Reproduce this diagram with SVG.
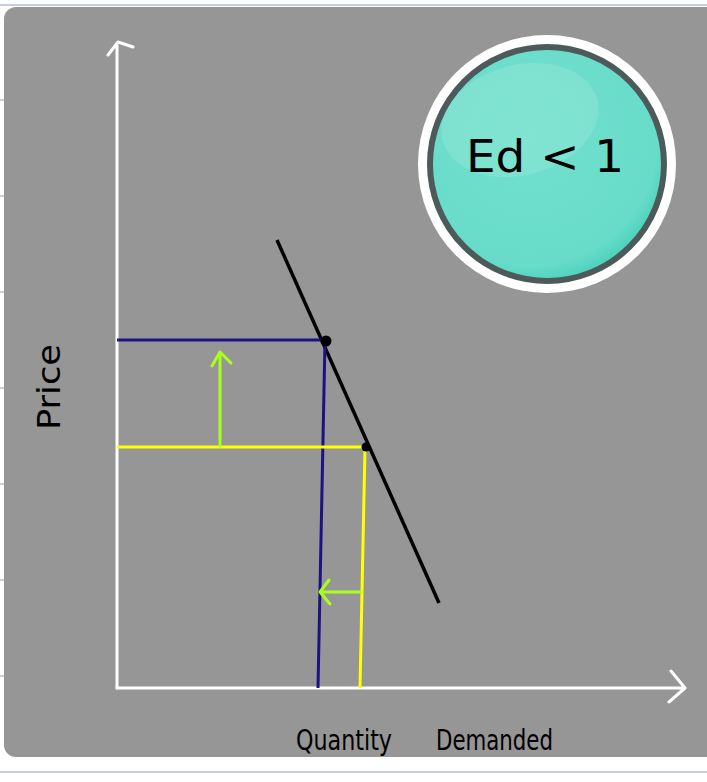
<svg xmlns="http://www.w3.org/2000/svg" width="707" height="782" viewBox="0 0 707 782">
<defs>
<style>
.guide{stroke:#c3cfdd;stroke-width:2}
.axis{stroke:#ffffff;stroke-width:3;fill:none;stroke-linecap:round;stroke-linejoin:round}
.navy{stroke:#1c1282;stroke-width:3;fill:none}
.yel{stroke:#ffff00;stroke-width:3;fill:none}
.grn{stroke:#a8ff1e;stroke-width:3;fill:none;stroke-linecap:round;stroke-linejoin:round}
.hand{font-family:"DejaVu Sans Condensed","DejaVu Sans",sans-serif;fill:#000000}
</style>
<radialGradient id="tealg" cx="0.42" cy="0.38" r="0.65">
<stop offset="0" stop-color="#6fe0cd"/>
<stop offset="0.85" stop-color="#69dcc9"/>
<stop offset="1" stop-color="#48d0ba"/>
</radialGradient>
</defs>
<rect x="0" y="0" width="707" height="782" fill="#ffffff"/>
<line class="guide" x1="0" y1="5" x2="707" y2="5"/>
<line class="guide" x1="0" y1="772" x2="707" y2="772"/>
<g class="guide">
<line x1="0" y1="100" x2="6" y2="100"/><line x1="0" y1="196" x2="6" y2="196"/><line x1="0" y1="292" x2="6" y2="292"/><line x1="0" y1="388" x2="6" y2="388"/><line x1="0" y1="484" x2="6" y2="484"/><line x1="0" y1="580" x2="6" y2="580"/><line x1="0" y1="676" x2="6" y2="676"/>
</g>
<rect x="4" y="7" width="715" height="750" rx="12" fill="#969696"/>
<g id="badge">
<circle cx="547" cy="164" r="129" fill="#ffffff"/>
<circle cx="547" cy="164" r="117" fill="url(#tealg)" stroke="#4d5a5a" stroke-width="6"/>
<ellipse cx="520" cy="120" rx="80" ry="55" fill="#ffffff" opacity="0.13" transform="rotate(-15 520 120)"/>
<text class="hand" x="466" y="172" font-size="44" textLength="158" lengthAdjust="spacingAndGlyphs">Ed &lt; 1</text>
</g>
<g id="connectors">
<path class="axis" d="M117,688 L117,45 M108,55 L118,42 L133,47"/>
<path class="axis" d="M117,688 L683,688 M671,671 L685,688 L669,702"/>
<line x1="277" y1="240" x2="439" y2="603" stroke="#000000" stroke-width="3.5"/>
<path class="navy" d="M117,340 L325,340 L318,688"/>
<path class="yel" d="M117,447 L365,447 L360,688"/>
<path class="grn" d="M220,446 L220,352 M212,366 L220,352 L231,363"/>
<path class="grn" d="M361,592 L320,592 M329,580 L320,592 L330,604"/>
</g>
<g id="points">
<circle cx="326" cy="341" r="5.5" fill="#000000"/>
<circle cx="366" cy="447" r="4.5" fill="#000000"/>
</g>
<g id="labels">
<text class="hand" transform="translate(60,430) rotate(-90)" font-size="32" textLength="86" lengthAdjust="spacingAndGlyphs">Price</text>
<text class="hand" x="296" y="750" font-size="28" textLength="96" lengthAdjust="spacingAndGlyphs">Quantity</text>
<text class="hand" x="436" y="750" font-size="28" textLength="117" lengthAdjust="spacingAndGlyphs">Demanded</text>
</g>
</svg>
